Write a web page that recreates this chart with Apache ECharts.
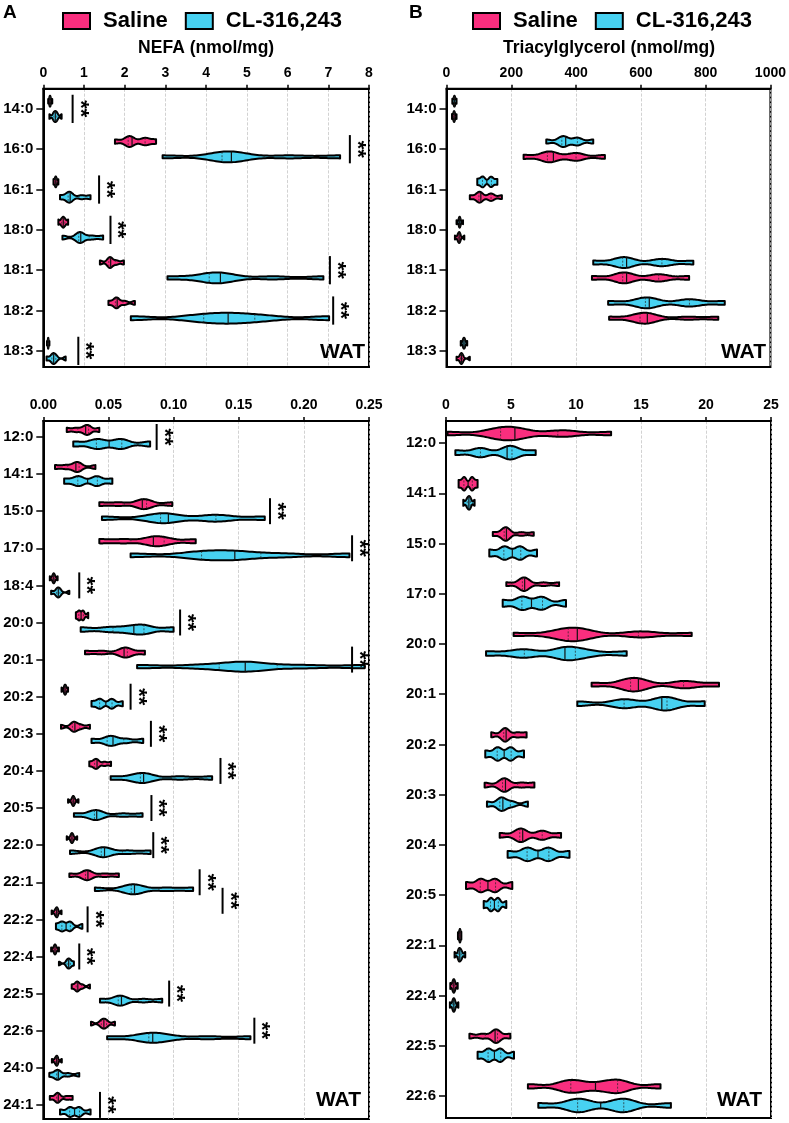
<!DOCTYPE html>
<html>
<head>
<meta charset="utf-8">
<script src="https://cdn.jsdelivr.net/npm/echarts@6/dist/echarts.min.js"></script>
<style>html,body{margin:0;padding:0;background:#fff}#c{width:789px;height:1123px}</style>
</head>
<body>
<div id="c"></div>
<script>
// ---------------- DATA ----------------
const nefaTopCats = ['14:0','16:0','16:1','18:0','18:1','18:2','18:3'];
const nefaTopTicks = [0,1,2,3,4,5,6,7,8];
const nefaTopSaline = [
  [0.12,0.15,0.16,0.17,0.18,0.22],
  [1.76,2.05,2.12,2.18,2.45,2.55,2.77],
  [0.25,0.28,0.30,0.31,0.33,0.37],
  [0.37,0.44,0.48,0.50,0.54,0.61],
  [1.39,1.60,1.64,1.67,1.80,1.98],
  [1.60,1.76,1.80,1.83,2.00,2.25],
  [0.09,0.11,0.12,0.12,0.13,0.15]
];
const nefaTopCL = [
  [0.15,0.25,0.28,0.31,0.34,0.45],
  [2.93,4.30,4.48,4.62,4.80,6.05,7.29],
  [0.41,0.60,0.64,0.68,0.94,1.16],
  [0.47,0.86,0.90,0.94,1.19,1.47],
  [3.05,3.95,4.20,4.35,4.50,5.65,6.88],
  [2.15,3.68,4.20,4.54,4.90,5.49,7.02],
  [0.08,0.20,0.24,0.27,0.32,0.55]
];
const nefaTopBrackets = [[0.72,0],[7.53,1],[1.37,2],[1.65,3],[7.04,4],[7.12,5],[0.86,6]];

const nefaBotCats = ['12:0','14:1','15:0','17:0','18:4','20:0','20:1','20:2','20:3','20:4','20:5','22:0','22:1','22:2','22:4','22:5','22:6','24:0','24:1'];
const nefaBotTicks = [0,0.05,0.10,0.15,0.20,0.25];
const nefaBotSaline = [
  [0.018,0.025,0.031,0.034,0.035,0.043],
  [0.009,0.017,0.024,0.026,0.028,0.040],
  [0.043,0.058,0.075,0.077,0.080,0.099],
  [0.043,0.062,0.083,0.086,0.095,0.117],
  [0.005,0.007,0.008,0.008,0.009,0.011],
  [0.025,0.027,0.028,0.030,0.031,0.0345],
  [0.032,0.045,0.061,0.063,0.065,0.078],
  [0.014,0.016,0.0165,0.017,0.0175,0.019],
  [0.0136,0.022,0.0235,0.025,0.029,0.0358],
  [0.0353,0.039,0.0405,0.042,0.047,0.052],
  [0.019,0.022,0.023,0.023,0.024,0.027],
  [0.018,0.021,0.022,0.022,0.023,0.026],
  [0.020,0.032,0.0335,0.035,0.047,0.058],
  [0.0064,0.009,0.010,0.0105,0.011,0.014],
  [0.006,0.008,0.009,0.009,0.010,0.012],
  [0.0218,0.025,0.026,0.027,0.030,0.0358],
  [0.0366,0.044,0.046,0.047,0.049,0.055],
  [0.0066,0.009,0.010,0.0105,0.011,0.0142],
  [0.005,0.010,0.011,0.012,0.018,0.0225]
];
const nefaBotCL = [
  [0.023,0.040,0.043,0.058,0.061,0.082],
  [0.016,0.026,0.028,0.040,0.042,0.053],
  [0.045,0.088,0.092,0.096,0.130,0.135,0.170],
  [0.067,0.118,0.125,0.147,0.150,0.184,0.235],
  [0.006,0.010,0.011,0.012,0.013,0.020],
  [0.0287,0.050,0.064,0.075,0.078,0.100],
  [0.072,0.120,0.150,0.155,0.160,0.199,0.2467],
  [0.037,0.043,0.044,0.052,0.053,0.061],
  [0.037,0.048,0.052,0.055,0.064,0.0767],
  [0.0517,0.074,0.076,0.078,0.105,0.1296],
  [0.0235,0.039,0.040,0.042,0.061,0.0762],
  [0.0205,0.044,0.046,0.048,0.065,0.0824],
  [0.0396,0.067,0.069,0.071,0.0946,0.115],
  [0.0097,0.014,0.015,0.020,0.021,0.030],
  [0.012,0.018,0.019,0.020,0.021,0.0235],
  [0.0435,0.057,0.059,0.061,0.0767,0.0913],
  [0.049,0.080,0.082,0.084,0.097,0.1266,0.159],
  [0.0046,0.010,0.011,0.012,0.019,0.0276],
  [0.0128,0.020,0.021,0.027,0.028,0.0363]
];
const nefaBotBrackets = [[0.087,0],[0.174,2],[0.237,3],[0.0276,4],[0.105,5],[0.237,6],[0.067,7],[0.0826,8],[0.136,9],[0.083,10],[0.0844,11],[0.120,12],[0.1376,12.5],[0.034,13],[0.0276,14],[0.0966,15],[0.162,16],[0.0435,18]];

const tagTopCats = ['14:0','16:0','16:1','18:0','18:1','18:2','18:3'];
const tagTopTicks = [0,200,400,600,800,1000];
const tagTopSaline = [
  [17,21,23,24,26,31],
  [238,305,318,330,395,405,489],
  [72,98,102,106,135,140,171],
  [26,35,38,40,42,55],
  [449,540,548,556,650,660,749],
  [502,590,605,620,630,745,839],
  [31,42,45,47,50,72]
];
const tagTopCL = [
  [18,22,24,25,27,31],
  [308,352,360,368,400,408,453],
  [95,110,114,135,140,157],
  [31,38,40,41,43,51],
  [453,540,548,556,660,670,762],
  [499,610,618,626,745,755,859],
  [44,51,53,55,57,64]
];

const tagBotCats = ['12:0','14:1','15:0','17:0','20:0','20:1','20:2','20:3','20:4','20:5','22:1','22:4','22:5','22:6'];
const tagBotTicks = [0,5,10,15,20,25];
const tagBotSaline = [
  [0.12,3.5,4.2,4.8,5.3,5.8,8.6,9.4,12.7],
  [0.97,1.35,1.45,1.95,2.05,2.43],
  [3.6,4.4,4.55,4.65,4.75,5.8,6.75],
  [4.64,5.8,5.95,6.05,6.2,7.5,8.7],
  [5.2,8.7,9.4,9.8,10.1,10.6,14.8,15.2,18.9],
  [11.2,13.9,14.3,14.6,15.0,18.2,18.5,21.0],
  [3.48,4.4,4.55,4.7,5.5,6.2],
  [2.97,4.3,4.5,4.65,5.8,6.8],
  [4.13,5.6,5.75,5.9,7.3,7.5,8.85],
  [1.54,2.6,2.75,3.7,3.85,5.1],
  [0.92,1.0,1.05,1.08,1.12,1.18],
  [0.33,0.5,0.58,0.62,0.7,0.9],
  [1.8,2.8,3.7,3.85,4.0,4.95],
  [6.3,9.2,9.6,10.0,11.5,12.8,13.2,13.5,16.5]
];
const tagBotCL = [
  [0.72,2.5,2.8,4.7,4.95,5.2,6.9],
  [1.33,1.6,1.72,1.8,1.9,2.2],
  [3.33,4.4,4.6,5.6,5.8,7.0],
  [4.36,5.8,5.95,7.2,7.5,9.23],
  [3.08,5.8,6.1,9.0,9.3,9.6,11.0,13.9],
  [10.1,13.5,13.9,16.6,16.9,17.1,19.9],
  [3.02,3.9,4.05,4.9,5.05,6.0],
  [3.15,4.1,4.25,4.5,5.1,6.3],
  [4.74,6.2,6.35,7.8,7.95,9.5],
  [2.9,3.4,3.5,3.95,4.05,4.64],
  [0.66,0.95,1.02,1.1,1.2,1.48],
  [0.3,0.5,0.58,0.62,0.7,0.95],
  [2.43,3.2,3.35,4.1,4.25,5.23],
  [7.1,9.9,10.2,10.5,13.3,13.6,13.9,17.3]
];

// ---------------- STYLE ----------------
const PINK = '#F92E7E';
const CYAN = '#47D1F1';
const FONT = '"Liberation Sans", Arial, sans-serif';
const BW = 0.3;          // KDE bandwidth relative to sd
const HALF = 0.135;      // violin max half height (fraction of a category step)

function quantile(s, p) {
  const pos = (s.length - 1) * p, lo = Math.floor(pos), hi = Math.ceil(pos);
  return s[lo] + (s[hi] - s[lo]) * (pos - lo);
}
function makeKde(s) {
  const n = s.length;
  const mean = s.reduce((a, b) => a + b, 0) / n;
  const sd = Math.sqrt(s.reduce((a, b) => a + (b - mean) * (b - mean), 0) / (n - 1));
  const h = Math.max(BW * sd, 1e-12);
  return x => s.reduce((acc, v) => acc + Math.exp(-0.5 * ((x - v) / h) * ((x - v) / h)), 0);
}

function violinRender(list, offset, color) {
  return function (params, api) {
    const i = params.dataIndex;
    const s = list[i].slice().sort((a, b) => a - b);
    const f = makeKde(s);
    const lo = s[0], hi = s[s.length - 1];
    const N = 90;
    const xs = [], ds = [];
    for (let k = 0; k <= N; k++) { const x = lo + (hi - lo) * k / N; xs.push(x); ds.push(f(x)); }
    const dmax = Math.max.apply(null, ds);
    const band = Math.abs(api.size([0, 1])[1]);
    const yc = api.coord([lo, i])[1] + offset * band;
    const H = HALF * band;
    const top = [], bot = [];
    for (let k = 0; k <= N; k++) {
      const px = api.coord([xs[k], i])[0];
      const w = ds[k] / dmax * H;
      top.push([px, yc - w]); bot.push([px, yc + w]);
    }
    const children = [{
      type: 'polygon', shape: { points: top.concat(bot.reverse()) },
      style: { fill: color, stroke: '#000', lineWidth: 2, lineJoin: 'round' }
    }];
    [0.25, 0.5, 0.75].forEach(q => {
      const xv = quantile(s, q);
      const w = f(xv) / dmax * H;
      const px = api.coord([xv, i])[0];
      children.push({
        type: 'line', shape: { x1: px, y1: yc - w, x2: px, y2: yc + w },
        style: q === 0.5 ? { stroke: '#111', lineWidth: 1.2 } : { stroke: '#222', lineWidth: 0.7, lineDash: [2, 1.5] }
      });
    });
    return { type: 'group', children };
  };
}

function bracketRender(params, api) {
  const p = api.coord([api.value(0), api.value(1)]);
  const band = Math.abs(api.size([0, 1])[1]);
  const h = 0.35 * band;
  return {
    type: 'group', children: [
      { type: 'line', shape: { x1: p[0], y1: p[1] - h, x2: p[0], y2: p[1] + h }, style: { stroke: '#000', lineWidth: 2 } },
      { type: 'text', x: p[0] + 7, y: p[1], rotation: -Math.PI / 2,
        style: { text: '**', font: 'bold 22px ' + FONT, fill: '#000', align: 'center', verticalAlign: 'middle' } }
    ]
  };
}

function xAxisCfg(gi, ticks, fmt) {
  return {
    type: 'value', gridIndex: gi, position: 'top', min: ticks[0], max: ticks[ticks.length - 1],
    interval: ticks[1] - ticks[0],
    axisLine: { show: true, onZero: false, lineStyle: { color: '#000', width: 2 } },
    axisTick: { show: true, length: 4, lineStyle: { color: '#000', width: 1.5 } },
    axisLabel: { margin: 9, color: '#000', fontWeight: 'bold', fontSize: 14, fontFamily: FONT, formatter: fmt },
    splitLine: { show: true, lineStyle: { type: 'dashed', color: '#c6c6c6', width: 0.8 } }
  };
}
function yAxisCfg(gi, cats, min, max) {
  const idx = cats.map((c, i) => i);
  return {
    type: 'value', gridIndex: gi, inverse: true, min: min, max: max,
    splitLine: { show: false },
    axisLine: { show: true, onZero: false, lineStyle: { color: '#000', width: 2 } },
    axisTick: { show: true, customValues: idx, length: 7, lineStyle: { color: '#000', width: 1.5 } },
    axisLabel: { show: true, customValues: idx, margin: 10, color: '#000', fontWeight: 'bold', fontSize: 15, fontFamily: FONT,
      formatter: v => { const k = Math.round(v); return (Math.abs(v - k) < 1e-6 && cats[k]) ? cats[k] : ''; } }
  };
}
function violinSeries(name, gi, list, offset, color) {
  return {
    type: 'custom', name: name, xAxisIndex: gi, yAxisIndex: gi, itemStyle: { color: color },
    renderItem: violinRender(list, offset, color),
    encode: { x: 0, y: 1 },
    data: list.map((s, i) => [quantile(s.slice().sort((a, b) => a - b), 0.5), i]),
    silent: true, z: 3
  };
}
function bracketSeries(gi, brackets) {
  return { type: 'custom', xAxisIndex: gi, yAxisIndex: gi, renderItem: bracketRender, encode: { x: 0, y: 1 }, data: brackets, silent: true, z: 4 };
}

const intFmt = v => String(Math.round(v));
const twoFmt = v => v.toFixed(2);
const gridBase = { show: true, borderColor: '#000', borderWidth: 2, containLabel: false };
const G = [
  { left: 43.3, top: 88.7, width: 325.7, height: 278.3 },
  { left: 43.3, top: 421, width: 325.7, height: 698 },
  { left: 446.5, top: 88.7, width: 325, height: 278.3 },
  { left: 446, top: 421, width: 325, height: 697 }
];

const legendBase = {
  data: ['Saline', 'CL-316,243'], icon: 'rect', itemWidth: 27, itemHeight: 16, itemGap: 17, padding: 0,
  itemStyle: { borderColor: '#000', borderWidth: 2 },
  textStyle: { fontSize: 22, fontWeight: 'bold', color: '#000', fontFamily: FONT, padding: [0, 0, 0, 8] },
  selectedMode: false
};
const titleStyle = { font: 'bold 17.5px ' + FONT, fill: '#000', align: 'center', verticalAlign: 'middle' };

const option = {
  animation: false,
  backgroundColor: '#fff',
  legend: [
    Object.assign({}, legendBase, { left: 62, top: 10 }),
    Object.assign({}, legendBase, { left: 472, top: 10 })
  ],
  grid: G.map(g => Object.assign({}, gridBase, g)),
  xAxis: [
    xAxisCfg(0, nefaTopTicks, intFmt),
    xAxisCfg(1, nefaBotTicks, twoFmt),
    xAxisCfg(2, tagTopTicks, intFmt),
    xAxisCfg(3, tagBotTicks, intFmt)
  ],
  yAxis: [
    yAxisCfg(0, nefaTopCats, -0.5, 6.4),
    yAxisCfg(1, nefaBotCats, -0.43, 18.38),
    yAxisCfg(2, tagTopCats, -0.5, 6.4),
    yAxisCfg(3, tagBotCats, -0.44, 13.44)
  ],
  series: [
    violinSeries('Saline', 0, nefaTopSaline, -0.19, PINK),
    violinSeries('CL-316,243', 0, nefaTopCL, 0.19, CYAN),
    bracketSeries(0, nefaTopBrackets),
    violinSeries('Saline', 1, nefaBotSaline, -0.19, PINK),
    violinSeries('CL-316,243', 1, nefaBotCL, 0.19, CYAN),
    bracketSeries(1, nefaBotBrackets),
    violinSeries('Saline', 2, tagTopSaline, 0.19, PINK),
    violinSeries('CL-316,243', 2, tagTopCL, -0.19, CYAN),
    violinSeries('Saline', 3, tagBotSaline, -0.19, PINK),
    violinSeries('CL-316,243', 3, tagBotCL, 0.19, CYAN)
  ],
  graphic: [
    { type: 'text', left: 3, top: 3, style: { text: 'A', font: 'bold 19px ' + FONT, fill: '#000' } },
    { type: 'text', left: 409, top: 3, style: { text: 'B', font: 'bold 19px ' + FONT, fill: '#000' } },
    { type: 'text', x: G[0].left + G[0].width / 2, y: 48, style: Object.assign({ text: 'NEFA (nmol/mg)' }, titleStyle) },
    { type: 'text', x: G[2].left + G[2].width / 2, y: 48, style: Object.assign({ text: 'Triacylglycerol (nmol/mg)' }, titleStyle) },
    { type: 'text', x: 365, y: 352.5, style: { text: 'WAT', font: 'bold 21px ' + FONT, fill: '#000', align: 'right', verticalAlign: 'middle' } },
    { type: 'text', x: 361, y: 1100.5, style: { text: 'WAT', font: 'bold 21px ' + FONT, fill: '#000', align: 'right', verticalAlign: 'middle' } },
    { type: 'text', x: 766, y: 352.5, style: { text: 'WAT', font: 'bold 21px ' + FONT, fill: '#000', align: 'right', verticalAlign: 'middle' } },
    { type: 'text', x: 762, y: 1100.5, style: { text: 'WAT', font: 'bold 21px ' + FONT, fill: '#000', align: 'right', verticalAlign: 'middle' } }
  ]
};

const chart = echarts.init(document.getElementById('c'), null, { renderer: 'canvas' });
chart.setOption(option);
</script>
</body>
</html>
